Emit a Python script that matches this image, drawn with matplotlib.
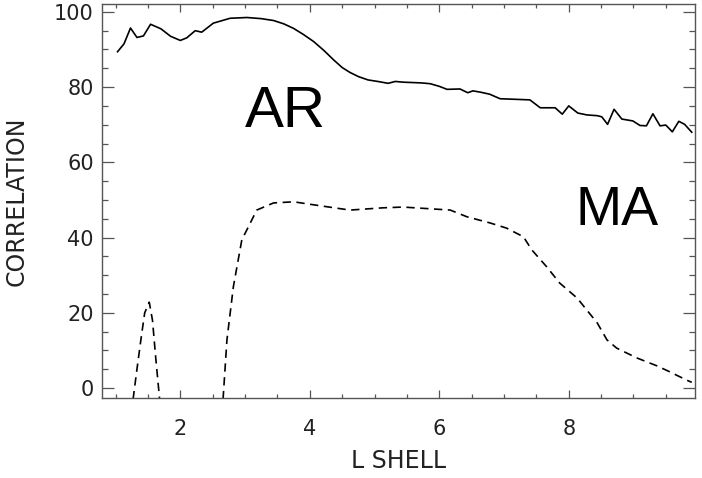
"""
Correlation vs L shell for AR and MA models (recreated figure).
"""

import matplotlib
matplotlib.use("Agg")
import matplotlib.pyplot as plt
from matplotlib.ticker import MultipleLocator

# AR correlation (solid line)
ar_l = [1.03, 1.13, 1.23, 1.33, 1.43, 1.54, 1.70, 1.85, 2.00, 2.10, 2.23, 2.33,
        2.51, 2.77, 3.03, 3.25, 3.44, 3.60, 3.75, 3.90, 4.06, 4.22, 4.37, 4.50,
        4.62, 4.75, 4.90, 5.05, 5.21, 5.32, 5.45, 5.60, 5.73, 5.86, 6.00, 6.12,
        6.32, 6.44, 6.52, 6.65, 6.78, 6.94, 7.10, 7.25, 7.40, 7.56, 7.71, 7.79,
        7.90, 8.00, 8.14, 8.28, 8.44, 8.51, 8.60, 8.70, 8.82, 8.99, 9.10, 9.20,
        9.30, 9.41, 9.50, 9.60, 9.70, 9.79, 9.90]
ar_corr = [89.4, 91.5, 95.7, 93.2, 93.6, 96.7, 95.5, 93.5, 92.4, 93.1, 95.0, 94.6,
           97.0, 98.3, 98.5, 98.2, 97.7, 96.8, 95.6, 94.0, 92.1, 89.7, 87.2, 85.2,
           83.9, 82.8, 81.9, 81.5, 81.0, 81.5, 81.3, 81.2, 81.1, 80.9, 80.2, 79.4,
           79.5, 78.5, 79.0, 78.6, 78.1, 76.9, 76.8, 76.7, 76.6, 74.5, 74.5, 74.5,
           72.8, 75.0, 73.1, 72.6, 72.4, 72.1, 70.1, 74.1, 71.5, 71.0, 69.8, 69.7,
           72.9, 69.7, 69.9, 68.1, 70.9, 70.1, 68.0]

# MA correlation (dashed line), two segments
ma1_l = [1.27, 1.33, 1.40, 1.45, 1.52, 1.57, 1.62, 1.68]
ma1_corr = [-3.0, 5.0, 14.0, 20.0, 22.8, 18.0, 8.0, -3.0]

ma2_l = [2.66, 2.72, 2.82, 2.95, 3.05, 3.18, 3.44, 3.75, 4.06, 4.62, 5.13,
         5.44, 5.90, 6.17, 6.43, 6.78, 7.04, 7.30, 7.43, 7.66, 7.86, 8.13,
         8.28, 8.44, 8.59, 8.74, 9.05, 9.36, 9.56, 9.82, 9.90]
ma2_corr = [-3.0, 12.8, 27.0, 39.4, 42.8, 47.3, 49.2, 49.5, 48.7, 47.3, 47.9,
            48.1, 47.6, 47.3, 45.5, 43.9, 42.5, 40.2, 36.7, 32.2, 27.9, 23.9,
            20.7, 17.3, 12.8, 10.6, 8.0, 5.9, 4.3, 2.1, 1.5]

AXIS_COLOR = "#555555"
TEXT_COLOR = "#222222"


def main():
    fig = plt.figure(figsize=(7.02, 4.78), dpi=100)
    ax = fig.add_axes([0.1453, 0.1674, 0.8447, 0.8243])

    ax.plot(ar_l, ar_corr, color="black", lw=1.2)
    dash = (0, (5.0, 3.3))
    ax.plot(ma1_l, ma1_corr, color="black", lw=1.2, linestyle=dash)
    ax.plot(ma2_l, ma2_corr, color="black", lw=1.2, linestyle=dash)

    ax.set_xlim(0.79, 9.95)
    ax.set_ylim(-2.66, 102.1)

    ax.xaxis.set_major_locator(MultipleLocator(2))
    ax.xaxis.set_minor_locator(MultipleLocator(0.5))
    ax.yaxis.set_major_locator(MultipleLocator(20))
    ax.yaxis.set_minor_locator(MultipleLocator(5))

    for spine in ax.spines.values():
        spine.set_color(AXIS_COLOR)
        spine.set_linewidth(1.0)

    ax.tick_params(axis="both", which="both", direction="in", top=True,
                   right=True, color=AXIS_COLOR, width=0.9, labelcolor=TEXT_COLOR,
                   labelsize=15)
    # IDL-style tick lengths: proportional to the plot size
    ax.tick_params(axis="x", which="major", length=5.8, pad=15)
    ax.tick_params(axis="x", which="minor", length=2.9)
    ax.tick_params(axis="y", which="major", length=8.6, pad=6)
    ax.tick_params(axis="y", which="minor", length=4.3)

    ax.set_xlabel("L SHELL", fontsize=17, color=TEXT_COLOR, labelpad=7)
    ax.set_ylabel("CORRELATION", fontsize=17, color=TEXT_COLOR, labelpad=18)

    ax.text(3.62, 73.5, "AR", fontsize=42, family="Liberation Sans",
            ha="center", va="center", color="black")
    ax.text(8.75, 47.0, "MA", fontsize=40, family="Liberation Sans",
            ha="center", va="center", color="black")

    fig.savefig("out.png", dpi=100)


if __name__ == "__main__":
    main()
